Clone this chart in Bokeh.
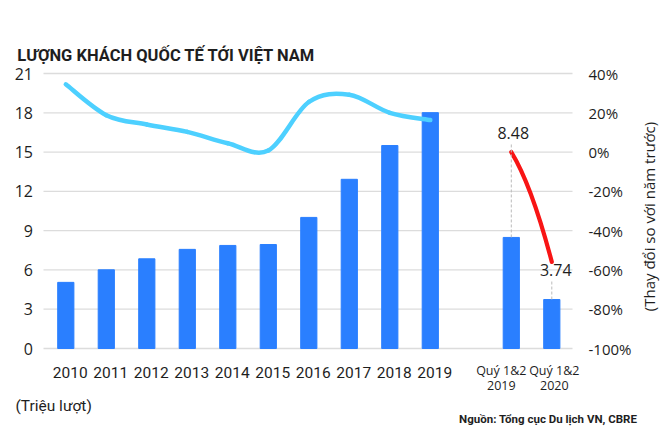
import numpy as np
from bokeh.plotting import figure
from bokeh.models import Range1d, Label
from bokeh.embed import file_html
from bokeh.resources import INLINE

# ---------------- data ----------------
years = ["2010", "2011", "2012", "2013", "2014", "2015", "2016", "2017", "2018", "2019"]
arrivals = [5.05, 6.01, 6.85, 7.57, 7.87, 7.94, 10.01, 12.92, 15.50, 18.01]   # million
growth = [34.5, 18.8, 14.0, 10.3, 4.5, 0.8, 25.5, 29.2, 20.0, 16.3]          # % vs previous year
half_line1 = ["Quý 1&2", "Quý 1&2"]
half_line2 = ["2019", "2020"]
half_arrivals = [8.48, 3.74]
half_growth = [0.0, -55.9]
left_ticks = [0, 3, 6, 9, 12, 15, 18, 21]
right_ticks = [-100, -80, -60, -40, -20, 0, 20, 40]

title_text = "LƯỢNG KHÁCH QUỐC TẾ TỚI VIỆT NAM"
unit_text = "(Triệu lượt)"
right_title = "(Thay đổi so với năm trước)"
source_text = "Nguồn: Tổng cục Du lịch VN, CBRE"

# ---------------- styling / layout ----------------
BAR = "#2A7FFF"
CYAN = "#4DD0FF"
RED = "#F81515"
GRID = "#DCDCDC"
TXT = "#1E1E1E"
W, H = 665, 446

# pixel geometry of the plotting area (whole canvas is the frame)
X_ORIGIN_PX, PX_PER_X = 65.3, 40.5          # pixel of category 0, pixels per category
Y_ZERO_PX = 348.0                           # pixel row of value 0
PX_PER_Y = 275.0 / (left_ticks[-1] - left_ticks[0])
AREA_L, AREA_R = 43.0, 572.0                # gridline extent in pixels


def px2x(px):
    return (px - X_ORIGIN_PX) / PX_PER_X


def py2y(py):
    return (Y_ZERO_PX - py) / PX_PER_Y


def y2pct(y):
    lo, hi = right_ticks[0], right_ticks[-1]
    return lo + y * (hi - lo) / (left_ticks[-1] - left_ticks[0])


x_years = np.arange(len(years), dtype=float)
x_half = np.array([len(years) + 1.0, len(years) + 2.0])

p = figure(width=W, height=H, x_range=Range1d(px2x(0), px2x(W)),
           y_range=Range1d(py2y(H), py2y(0)),
           x_axis_location=None, y_axis_location=None,
           output_backend="svg", toolbar_location=None,
           min_border=0, min_border_left=0, min_border_right=0,
           min_border_top=0, min_border_bottom=0)
p.outline_line_color = None
p.background_fill_color = "white"
p.border_fill_color = "white"
for g in p.grid:
    g.visible = False
p.extra_y_ranges = {"pct": Range1d(y2pct(py2y(H)), y2pct(py2y(0)))}

# gridlines at the left-axis ticks
n = len(left_ticks)
p.segment(x0=[px2x(AREA_L)] * n, x1=[px2x(AREA_R)] * n, y0=left_ticks, y1=left_ticks,
          line_color=GRID, line_width=1.3)

# left axis tick labels
p.text(x=[px2x(32.5)] * n, y=left_ticks, text=[str(t) for t in left_ticks],
       text_align="right", text_baseline="middle", text_font={"value": "Open Sans"},
       text_font_size={"value": "16px"}, text_color=TXT)
# right axis tick labels
m = len(right_ticks)
p.text(x=[px2x(588)] * m, y=right_ticks, y_range_name="pct",
       text=[f"{t}%" for t in right_ticks],
       text_align="left", text_baseline="middle", text_font={"value": "Open Sans"},
       text_font_size={"value": "15px"}, text_color=TXT)
# bottom category labels (years)
YEAR_LAB_DX = 4.4 / PX_PER_X
p.text(x=x_years + YEAR_LAB_DX, y=[py2y(371.5)] * len(years), text=years,
       text_align="center", text_baseline="middle", text_font={"value": "Roboto"},
       text_font_size={"value": "15.5px"}, text_color=TXT)
# bottom category labels (half years, two lines)
half_dx = np.array([-10.0, 2.5]) / PX_PER_X
p.text(x=x_half + half_dx, y=[py2y(370)] * 2, text=half_line1,
       text_align="center", text_baseline="middle", text_font={"value": "Open Sans"},
       text_font_size={"value": "12.5px"}, text_color=TXT)
p.text(x=x_half + half_dx, y=[py2y(385)] * 2, text=half_line2,
       text_align="center", text_baseline="middle", text_font={"value": "Open Sans"},
       text_font_size={"value": "12.5px"}, text_color=TXT)

# bars
p.vbar(x=x_years, top=arrivals, width=0.4, color=BAR)
p.vbar(x=x_half, top=half_arrivals, width=0.4, color=BAR)

# smooth growth line (Catmull-Rom -> cubic bezier through the data points)
P = np.column_stack([x_years, np.array(growth, dtype=float)])
Pe = np.vstack([P[0], P, P[-1]])
pa, pb = Pe[1:-2], Pe[2:-1]
pm, pn = Pe[:-3], Pe[3:]
c0 = pa + (pb - pm) / 6.0
c1 = pb - (pn - pa) / 6.0
p.bezier(x0=pa[:, 0], y0=pa[:, 1], x1=pb[:, 0], y1=pb[:, 1],
         cx0=c0[:, 0], cy0=c0[:, 1], cx1=c1[:, 0], cy1=c1[:, 1],
         y_range_name="pct", line_color=CYAN, line_width=4.5, line_cap="round")

# red half-year change line
p.quadratic(x0=[x_half[0]], y0=[half_growth[0]], x1=[x_half[1]], y1=[half_growth[1]],
            cx=[(x_half[0] + x_half[1]) / 2],
            cy=[half_growth[0] + 0.3 * (half_growth[1] - half_growth[0])],
            y_range_name="pct", line_color=RED, line_width=4.2, line_cap="round")

# value labels + dashed leaders
lab_py = [132.0, 269.0]
lab_dx = np.array([2.0, 4.0]) / PX_PER_X
lead_top_py = [143.0, 280.0]
p.segment(x0=x_half, y0=half_arrivals, x1=x_half, y1=[py2y(v) for v in lead_top_py],
          line_color="#BBBBBB", line_width=1, line_dash="3 2")
p.text(x=x_half + lab_dx, y=[py2y(v) for v in lab_py], text=[f"{v:.2f}" for v in half_arrivals],
       text_align="center", text_baseline="middle", text_font={"value": "Open Sans"},
       text_font_size={"value": "16px"}, text_color=TXT)

# title / notes
p.add_layout(Label(x=px2x(16.7), y=py2y(55), text=title_text,
                   text_align="left", text_baseline="alphabetic", text_font="Roboto",
                   text_font_style="bold", text_font_size="16.5px", text_color=TXT))
p.add_layout(Label(x=px2x(15), y=py2y(405), text=unit_text,
                   text_align="left", text_baseline="middle", text_font="Roboto",
                   text_font_size="15.5px", text_color=TXT))
p.add_layout(Label(x=px2x(636.7), y=py2y(418), text=source_text,
                   text_align="right", text_baseline="middle", text_font="Roboto",
                   text_font_style="bold", text_font_size="11.5px", text_color=TXT))
p.add_layout(Label(x=px2x(648.5), y=py2y(216), text=right_title,
                   angle=np.pi / 2, text_align="center", text_baseline="middle",
                   text_font="Open Sans", text_font_size="15px", text_color=TXT))

open("out.html", "w").write(file_html(p, INLINE))
